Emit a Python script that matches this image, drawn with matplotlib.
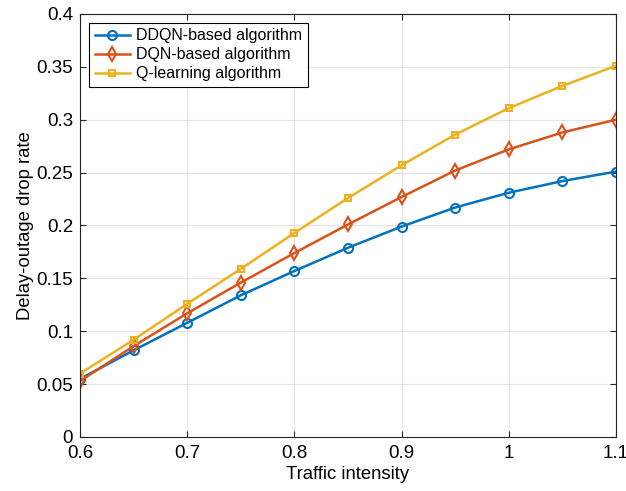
import numpy as np
import matplotlib.pyplot as plt

plt.rcParams['font.family'] = ['Liberation Sans', 'DejaVu Sans']

# traffic intensity sweep
traffic = [0.6, 0.65, 0.7, 0.75, 0.8, 0.85, 0.9, 0.95, 1.0, 1.05, 1.1]

# delay-outage drop rate per algorithm
ddqn = [0.055, 0.082, 0.108, 0.134, 0.157, 0.179, 0.199, 0.217, 0.231, 0.242, 0.251]
dqn = [0.053, 0.086, 0.117, 0.146, 0.174, 0.201, 0.227, 0.252, 0.272, 0.288, 0.300]
qlearn = [0.060, 0.092, 0.126, 0.159, 0.193, 0.226, 0.257, 0.286, 0.311, 0.332, 0.351]

xticks = [0.6, 0.7, 0.8, 0.9, 1.0, 1.1]
xticklabels = ['0.6', '0.7', '0.8', '0.9', '1', '1.1']
yticks = [0, 0.05, 0.1, 0.15, 0.2, 0.25, 0.3, 0.35, 0.4]
yticklabels = ['0', '0.05', '0.1', '0.15', '0.2', '0.25', '0.3', '0.35', '0.4']

fig = plt.figure(figsize=(6.26, 4.91), dpi=100)
ax = fig.add_axes([0.128, 0.110, 0.856, 0.8615])

ax.plot(traffic, ddqn, '-o', color='#0072BD', lw=1.8, ms=6.5, mfc='none', mew=1.5,
        label='DDQN-based algorithm')
ax.plot(traffic, dqn, '-d', color='#D95319', lw=1.8, ms=7, mfc='none', mew=1.5,
        label='DQN-based algorithm')
ax.plot(traffic, qlearn, '-s', color='#EDB120', lw=1.8, ms=5, mfc='none', mew=1.5,
        label='Q-learning algorithm')

ax.set_xlim(0.6, 1.1)
ax.set_ylim(0, 0.4)
ax.set_xticks(xticks)
ax.set_xticklabels(xticklabels)
ax.set_yticks(yticks)
ax.set_yticklabels(yticklabels)
ax.tick_params(direction='in', labelsize=13.5, length=4, width=0.8, top=True, right=True,
               colors='#262626', labelcolor='black')
ax.tick_params(axis='x', pad=6)
ax.tick_params(axis='y', pad=5)
ax.grid(True, color='#e3e3e3', lw=0.8)
ax.set_axisbelow(True)
for s in ax.spines.values():
    s.set_color('#262626')
    s.set_linewidth(0.8)

ax.set_xlabel('Traffic intensity', fontsize=13.3, labelpad=3)
ax.set_ylabel('Delay-outage drop rate', fontsize=13.3, labelpad=2)

leg = ax.legend(loc='upper left', fontsize=11.5, fancybox=False, edgecolor='black',
                framealpha=1, handlelength=2.2, borderaxespad=0.55, labelspacing=0.25,
                handletextpad=0.4, borderpad=0.35)
leg.get_frame().set_linewidth(0.8)

fig.savefig('out.png', dpi=100)
